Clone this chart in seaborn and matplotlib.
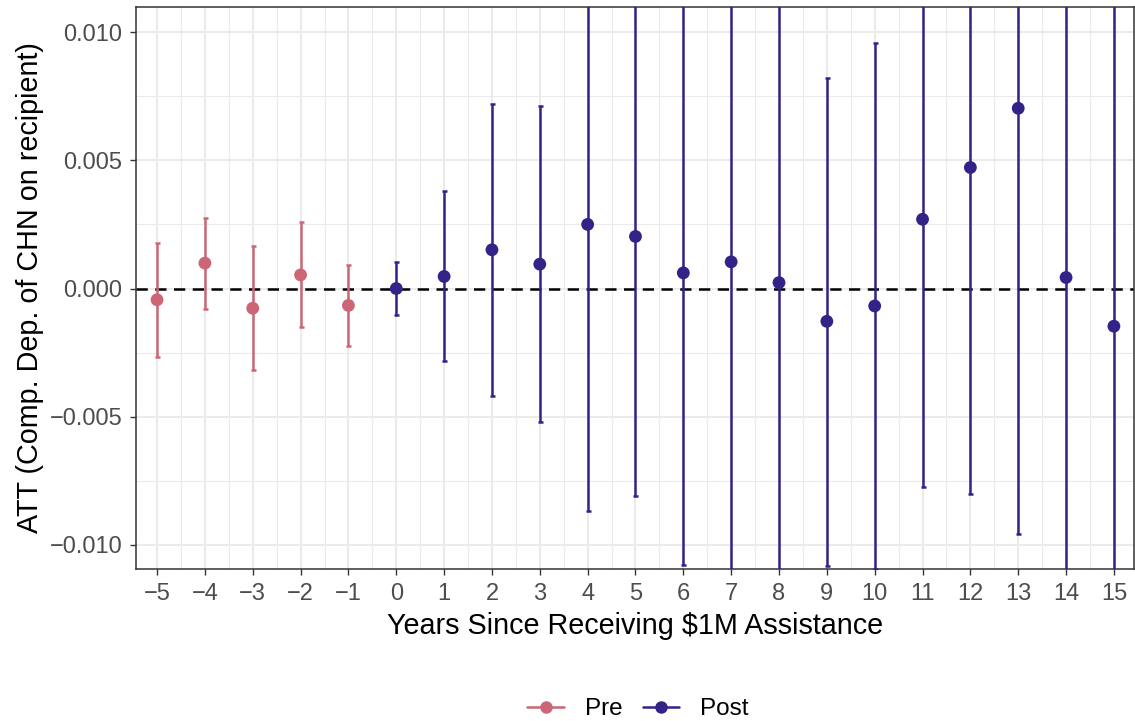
import matplotlib
matplotlib.use("Agg")
import matplotlib.pyplot as plt
from matplotlib.lines import Line2D
from matplotlib.ticker import MultipleLocator
import numpy as np
import pandas as pd
import seaborn as sns

# Event-study estimates
years = list(range(-5, 16))
att = [-0.00044, 0.00099, -0.00077, 0.00053, -0.00066, 0.0,
       0.00047, 0.00151, 0.00095, 0.00250, 0.00203, 0.00061, 0.00104,
       0.00023, -0.00128, -0.00068, 0.00270, 0.00472, 0.00703, 0.00043,
       -0.00147]
ci_lower = [-0.00267, -0.00078, -0.00318, -0.00152, -0.00223, -0.00105,
            -0.00283, -0.00418, -0.00520, -0.00867, -0.00810, -0.01077,
            -0.01196, -0.01377, -0.01082, -0.01094, -0.00775, -0.00803,
            -0.00957, -0.01457, -0.01747]
ci_upper = [0.00178, 0.00276, 0.00164, 0.00260, 0.00091, 0.00104,
            0.00379, 0.00721, 0.00711, 0.01367, 0.01216, 0.01199,
            0.01404, 0.01423, 0.00823, 0.00958, 0.01315, 0.01747,
            0.02363, 0.01543, 0.01453]
period_order = ['Pre', 'Post']
colors = {'Pre': '#CC6677', 'Post': '#332288'}

df = pd.DataFrame({'Year': years, 'ATT': att,
                   'Lower': ci_lower, 'Upper': ci_upper})
df['Period'] = np.where(df['Year'] < 0, 'Pre', 'Post')

sns.set_theme(style='white')
plt.rcParams['font.family'] = ['Liberation Sans', 'DejaVu Sans']

fig = plt.figure(figsize=(11.35, 7.21), dpi=100)
ax = fig.add_axes([136 / 1135, 1 - 569 / 721, (1134 - 136) / 1135, (569 - 7) / 721])

# grid (ggplot theme_bw look)
ax.set_axisbelow(True)
ax.xaxis.set_major_locator(MultipleLocator(1))
ax.xaxis.set_minor_locator(MultipleLocator(0.5))
ax.yaxis.set_major_locator(MultipleLocator(0.005))
ax.yaxis.set_minor_locator(MultipleLocator(0.0025))
ax.grid(which='major', color='#EBEBEB', linewidth=1.5)
ax.grid(which='minor', color='#EBEBEB', linewidth=0.8)

ax.axhline(0, color='black', linestyle=(0, (4.5, 3)), linewidth=1.8, zorder=2)

for period in period_order:
    sub = df[df['Period'] == period]
    ax.errorbar(sub['Year'], sub['ATT'],
                yerr=[sub['ATT'] - sub['Lower'], sub['Upper'] - sub['ATT']],
                fmt='none', ecolor=colors[period], elinewidth=1.8,
                capsize=1.8, capthick=1.8, zorder=3)

sns.scatterplot(data=df, x='Year', y='ATT', hue='Period',
                hue_order=period_order, palette=colors, s=85,
                edgecolor='none', legend=False, zorder=4, ax=ax)

ax.set_xlim(-5.44, 15.42)
ax.set_ylim(-0.01094, 0.01098)
ax.set_xticks(years)
ax.set_xticklabels([str(y).replace('-', '\u2212') for y in years])
yt = [-0.010, -0.005, 0.0, 0.005, 0.010]
ax.set_yticks(yt)
ax.set_yticklabels([f'{v:.3f}'.replace('-', '\u2212') for v in yt])

ax.tick_params(axis='both', which='major', direction='out', length=4.3,
               width=1, color='#333333', labelsize=17, labelcolor='#4D4D4D',
               pad=5.5, bottom=True, left=True)
ax.tick_params(which='minor', length=0)
for s in ax.spines.values():
    s.set_color('#333333')
    s.set_linewidth(1.1)

ax.set_xlabel('Years Since Receiving $1M Assistance', fontsize=20.7,
              color='black', labelpad=5)
ax.set_ylabel('ATT (Comp. Dep. of CHN on recipient)', fontsize=20.7,
              color='black', labelpad=4)

handles = [Line2D([0], [0], color=colors[p], marker='o', markersize=9,
                  linewidth=1.8, markeredgewidth=0) for p in period_order]
fig.legend(handles, period_order, loc='center', ncol=2, frameon=False,
           bbox_to_anchor=(638 / 1135, 0.016), fontsize=17.5,
           labelcolor='black', handlelength=1.5, columnspacing=0.85,
           handletextpad=0.85)

fig.savefig('out.png', dpi=100)
